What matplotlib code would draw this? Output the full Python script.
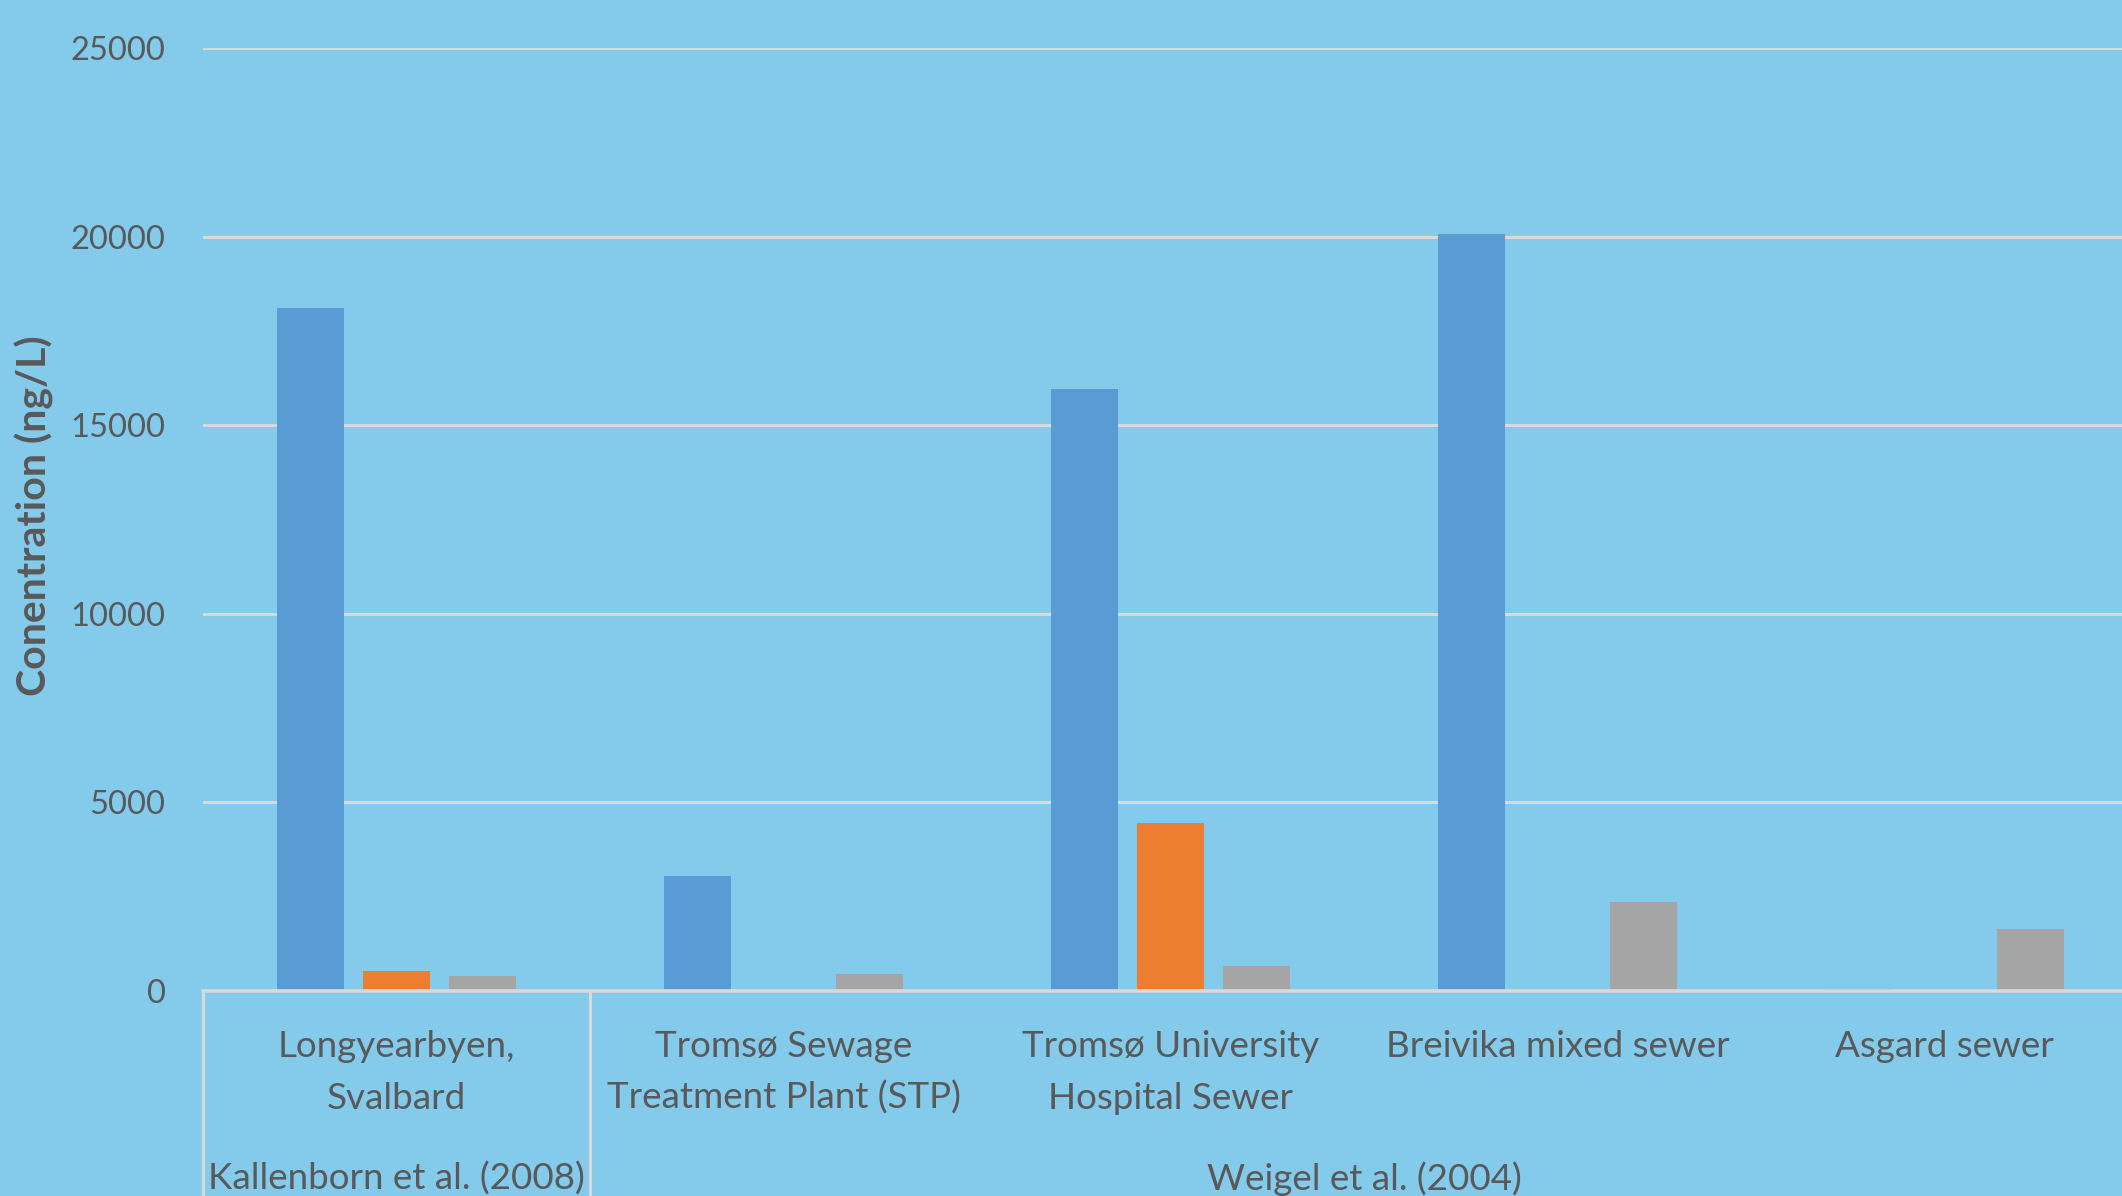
import matplotlib.pyplot as plt
import matplotlib.transforms as mtransforms
import numpy as np

# sites and measured concentrations (ng/L)
sites = ["Longyearbyen,\nSvalbard",
         "Tromsø Sewage\nTreatment Plant (STP)",
         "Tromsø University\nHospital Sewer",
         "Breivika mixed sewer",
         "Asgard sewer"]
series_1 = [18100, 3050, 15950, 20070, 50]
series_2 = [540, 0, 4450, 0, 0]
series_3 = [400, 460, 670, 2350, 1650]

# studies grouping the sites: (label, first site, last site)
studies = [("Kallenborn et al. (2008)", 0, 0),
           ("Weigel et al. (2004)", 1, 4)]

yticks = [0, 5000, 10000, 15000, 20000, 25000]

bg = "#83CAEB"
grid_col = "#D9D9D9"
text_col = "#595959"
colors = ["#5B9BD5", "#ED7D31", "#A5A5A5"]

plt.rcParams['font.family'] = ['Lato', 'DejaVu Sans']

W, H = 2122, 1196
fig = plt.figure(figsize=(W / 100, H / 100), dpi=100, facecolor=bg)
# axes runs a little past the right edge of the figure
ax = fig.add_axes([203 / W, 1 - 991 / H, (2138 - 203) / W, (991 - 48) / H])
ax.set_facecolor(bg)

x = np.arange(len(sites))
bar_w = 0.173
step = 0.222
for k, vals in enumerate([series_1, series_2, series_3]):
    ax.bar(x + (k - 1) * step, vals, width=bar_w, color=colors[k], zorder=3)

ax.set_xlim(-0.5, len(sites) - 0.5)
ax.set_ylim(0, 25000)
ax.set_yticks(yticks)
ax.set_yticklabels([str(t) for t in yticks], fontsize=23.5, color=text_col)
ax.tick_params(axis='y', length=0, pad=27)
ax.set_xticks([])
for t in yticks[1:]:
    ax.axhline(t, color=grid_col, lw=2.2, zorder=1)
ax.axhline(0, color=grid_col, lw=2.6, zorder=4, clip_on=False)
for s in ax.spines.values():
    s.set_visible(False)

# category labels below the axis, one text per line
trans = mtransforms.blended_transform_factory(ax.transData, fig.transFigure)
for i, name in enumerate(sites):
    for j, line in enumerate(name.split("\n")):
        ax.text(i, 1 - (1057 + 52 * j) / H, line, transform=trans,
                ha='center', va='baseline', fontsize=26.5, color=text_col)

# study labels and separators
for label, a, b in studies:
    ax.text((a + b) / 2, 1 - 1190 / H, label, transform=trans,
            ha='center', va='baseline', fontsize=26.5, color=text_col)
    ax.plot([a - 0.5, a - 0.5], [0, -0.3], color=grid_col, lw=2.2,
            transform=mtransforms.blended_transform_factory(ax.transData, ax.transAxes),
            clip_on=False, zorder=4)

fig.text(34 / W, 1 - 516 / H, "Conentration (ng/L)", rotation=90,
         ha='center', va='center', fontsize=29.5, fontweight='bold', color=text_col)

fig.savefig("out.png", dpi=100, facecolor=bg)
